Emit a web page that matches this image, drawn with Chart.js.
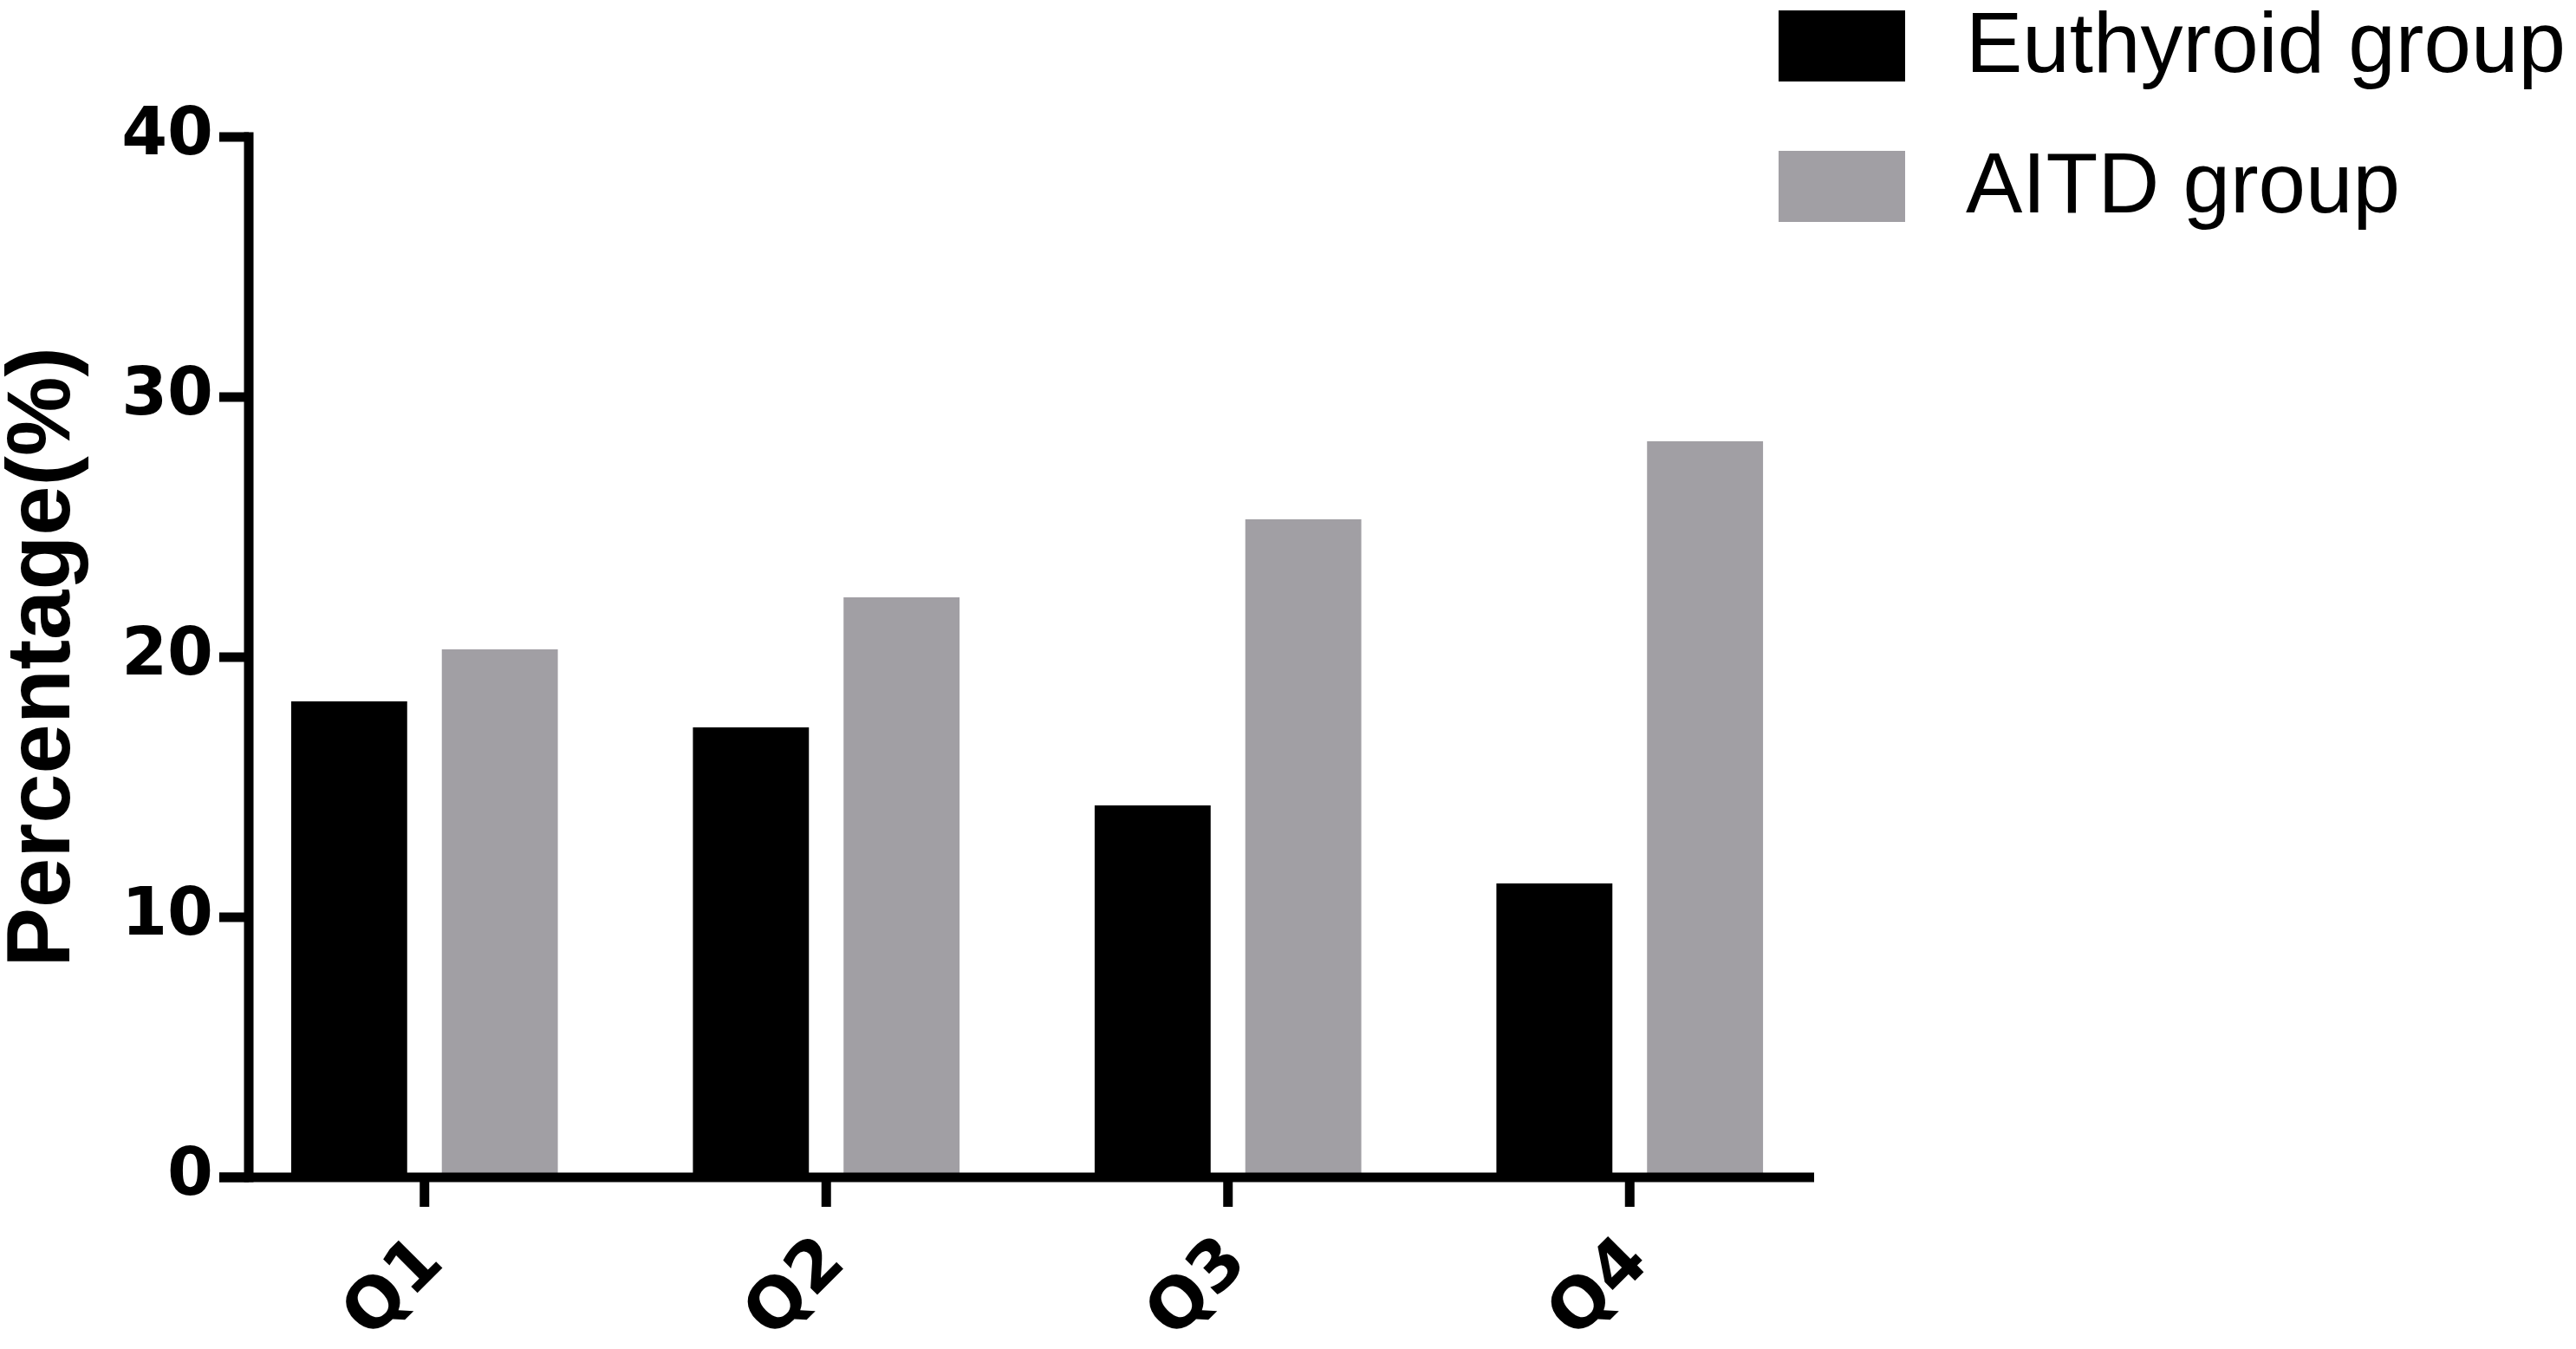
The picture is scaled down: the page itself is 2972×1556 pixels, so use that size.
<!DOCTYPE html>
<html lang="en">
<head>
<meta charset="UTF-8">
<title>Percentage by quartile</title>
<script src="https://cdn.jsdelivr.net/npm/chart.js"></script>
<style>
  html, body { margin: 0; padding: 0; background: #fff; }
</style>
</head>
<body>
<canvas id="chart" width="2972" height="1556"></canvas>
<script>
// data
const quartiles = ['Q1', 'Q2', 'Q3', 'Q4'];
const euthyroid = [18.3, 17.3, 14.3, 11.3];
const aitd = [20.3, 22.3, 25.3, 28.3];
const yTicks = [0, 10, 20, 30, 40];

// Prism-style axes: thick black lines, y axis set off from the first bar
const axisLines = {
    id: 'axisLines',
    afterDatasetsDraw(chart) {
        const { ctx, scales: { x, y } } = chart;
        const lw = 11;
        const tick = 34;
        const yAxisX = x.left + 29;
        const y0 = y.getPixelForValue(0);
        const yTop = y.getPixelForValue(40);
        ctx.save();
        ctx.fillStyle = '#000';
        ctx.fillRect(yAxisX - lw / 2, yTop - lw / 2, lw, y0 - yTop + lw);
        yTicks.forEach(v => {
            const py = y.getPixelForValue(v);
            ctx.fillRect(yAxisX - tick, py - lw / 2, tick, lw);
        });
        ctx.fillRect(yAxisX - tick, y0 - lw / 2, x.right - 19 - (yAxisX - tick), lw);
        quartiles.forEach((q, i) => {
            const px = x.getPixelForValue(i);
            ctx.fillRect(px - lw / 2, y0, lw, tick);
        });
        ctx.restore();
    }
};

// legend in the top right corner
const boxLegend = {
    id: 'boxLegend',
    afterDraw(chart) {
        const ctx = chart.ctx;
        ctx.save();
        ctx.font = '98px "Liberation Sans"';
        ctx.textBaseline = 'middle';
        ctx.textAlign = 'left';
        chart.data.datasets.forEach((ds, i) => {
            const top = 12 + i * 162;
            ctx.fillStyle = ds.backgroundColor;
            ctx.fillRect(2052, top, 146, 82);
            ctx.fillStyle = '#000';
            ctx.fillText(ds.label, 2268, top + 44);
        });
        ctx.restore();
    }
};

new Chart(document.getElementById('chart'), {
    type: 'bar',
    data: {
        labels: quartiles,
        datasets: [
            {
                label: 'Euthyroid group',
                data: euthyroid,
                backgroundColor: '#000000',
                categoryPercentage: 0.75,
                barPercentage: 0.77
            },
            {
                label: 'AITD group',
                data: aitd,
                backgroundColor: '#a19fa4',
                categoryPercentage: 0.75,
                barPercentage: 0.77
            }
        ]
    },
    options: {
        responsive: false,
        animation: false,
        layout: { padding: { left: 0, right: 860, top: 158, bottom: 0 } },
        plugins: {
            legend: { display: false },
            tooltip: { enabled: false }
        },
        scales: {
            x: {
                offset: true,
                grid: { display: false, drawTicks: false },
                border: { display: false },
                ticks: {
                    color: '#000',
                    font: { family: 'DejaVu Sans', weight: 'bold', size: 80 },
                    minRotation: 45,
                    maxRotation: 45,
                    padding: 52,
                    labelOffset: 10
                },
                afterFit: s => { s.height = 198; }
            },
            y: {
                min: 0,
                max: 40,
                grid: { display: false, drawTicks: false },
                border: { display: false },
                afterBuildTicks: s => { s.ticks = yTicks.map(v => ({ value: v })); },
                ticks: {
                    color: '#000',
                    font: { family: 'DejaVu Sans', weight: 'bold', size: 76 },
                    padding: 12
                },
                title: {
                    display: true,
                    text: 'Percentage(%)',
                    color: '#000',
                    font: { family: 'Liberation Sans', weight: 'bold', size: 103, lineHeight: 1 },
                    padding: 0
                },
                afterFit: s => { s.width = 258; }
            }
        }
    },
    plugins: [axisLines, boxLegend]
});
</script>
</body>
</html>
